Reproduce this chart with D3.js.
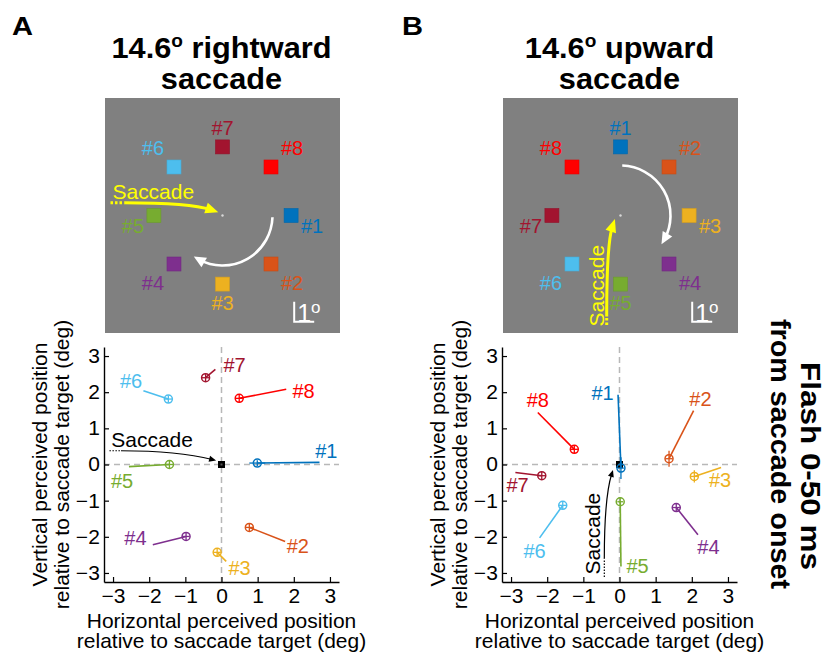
<!DOCTYPE html>
<html><head><meta charset="utf-8">
<script src="https://cdn.jsdelivr.net/npm/d3@7"></script>
<style>
body{margin:0;background:#fff}
svg{display:block}
text{font-family:"Liberation Sans",Arial,Helvetica,sans-serif}
</style>
</head><body>
<svg id="fig" width="836" height="652"></svg>
<script>
// ---------------- DATA ----------------
const targetIds = ["#1","#2","#3","#4","#5","#6","#7","#8"];
const targetColors = ["#0072BD","#D95319","#EDB120","#7E2F8E","#77AC30","#4DBEEE","#A2142F","#FF0000"];
const targetAngleOffsets = [0,-45,-90,-135,-180,-225,-270,-315]; // deg relative to saccade direction
const targetEcc = 3.43;               // deg (schematic)
const saccadeDirs = [0, 90];          // A rightward, B upward
const panelLetters = ["A","B"];
const titleWords = ["rightward","upward"];
const saccadeAmp = "14.6";
const tickValues = [-3,-2,-1,0,1,2,3];
const tickLabels = ["\u22123","\u22122","\u22121","0","1","2","3"];

// Panel A: perceived position (deg), trajectory end, label position, error bars
const A_x  = [0.99, 0.77, -0.12, -0.98, -1.44, -1.47, -0.44, 0.49];
const A_y  = [0.04, -1.74, -2.43, -1.99, 0.00, 1.81, 2.40, 1.83];
const A_x2 = [2.71, 1.76, 0.13, -1.90, -2.56, -2.16, -0.17, 1.79];
const A_y2 = [0.06, -2.13, -2.68, -2.22, -0.06, 2.04, 2.63, 2.08];
const A_lx = [2.90, 2.11, 0.50, -2.38, -2.75, -2.50, 0.36, 2.27];
const A_ly = [0.36, -2.25, -2.86, -2.03, -0.45, 2.31, 2.75, 2.02];
const A_ex = [0.22, 0.10, 0.10, 0.10, 0.10, 0.10, 0.10, 0.10];
const A_ey = [0.08, 0.10, 0.10, 0.10, 0.10, 0.10, 0.10, 0.10];

// Panel B
const B_x  = [0.04, 1.37, 2.07, 1.57, 0.02, -1.57, -2.15, -1.25];
const B_y  = [-0.10, 0.16, -0.33, -1.19, -1.03, -1.13, -0.31, 0.42];
const B_x2 = [-0.04, 2.05, 2.81, 2.17, 0.04, -2.21, -2.88, -2.26];
const B_y2 = [1.93, 1.49, -0.08, -1.94, -2.82, -2.03, -0.22, 1.44];
const B_lx = [-0.47, 2.24, 2.78, 2.46, 0.50, -2.35, -2.82, -2.26];
const B_ly = [1.97, 1.80, -0.42, -2.28, -2.82, -2.38, -0.56, 1.79];
const B_ex = [0.08, 0.10, 0.10, 0.10, 0.08, 0.10, 0.10, 0.10];
const B_ey = [0.30, 0.22, 0.17, 0.10, 0.10, 0.10, 0.10, 0.10];

// Saccade annotation in the scatter plots (deg)
const sacTextA = [-1.92, 0.68];
const sacDotA = [[-3.10, 0.38], [-2.78, 0.38]];
const sacCurveA = [[-2.78, 0.38], [-1.20, 0.38], [-0.15, 0.11]];
const sacTextB = [-0.73, -1.91];
const sacDotB = [[-0.42, -3.11], [-0.42, -2.60]];
const sacCurveB = [[-0.42, -2.60], [-0.42, -0.90], [-0.18, -0.15]];

// Saccade annotation in the stimulus schematics (deg, schematic space)
const stimSacTextA = [-3.46, 1.19];
const stimSacDotA = [[-5.60, 0.64], [-4.90, 0.64]];
const stimSacCurveA = [[-4.90, 0.64], [-1.60, 0.64], [-0.21, 0.16]];
const stimSacTextB = [-1.19, -3.51];
const stimSacDotB = [[-0.69, -5.48], [-0.69, -5.05]];
const stimSacCurveB = [[-0.69, -5.05], [-0.69, -1.40], [-0.28, -0.18]];
const arcRadius = 2.5;      // deg
const arcSweep = 116;       // deg
const stimHalf = 5.875;     // deg half-width of schematic
const scaleBarDeg = 1;

const sideText = ["Flash 0-50 ms", "from saccade onset"];

// ---------------- DRAW ----------------
const svg = d3.select("#fig");
const FONT_SX = 1.05;

function txt(g, x, y, str, o = {}) {
  const t = g.append("text")
    .attr("transform", `translate(${x},${y}) rotate(${o.rotate || 0}) scale(${o.sx || FONT_SX},1)`)
    .attr("text-anchor", o.anchor || "middle")
    .attr("font-size", o.size || 20)
    .attr("font-weight", o.weight || "normal")
    .attr("fill", o.fill || "#000");
  if (o.baseline) t.attr("dominant-baseline", o.baseline);
  t.text(str);
  return t;
}

function arrowHead(g, tip, dir, len, hw, fill) {
  const n = Math.hypot(dir[0], dir[1]);
  const ux = dir[0] / n, uy = dir[1] / n;
  const bx = tip[0] - ux * len, by = tip[1] - uy * len;
  const pts = [tip, [bx - uy * hw, by + ux * hw], [bx + uy * hw, by - ux * hw]];
  g.append("polygon").attr("points", pts.map(p => p.join(",")).join(" ")).attr("fill", fill);
}

const panels = [
  {x: A_x, y: A_y, x2: A_x2, y2: A_y2, lx: A_lx, ly: A_ly, ex: A_ex, ey: A_ey,
   sacText: sacTextA, sacDot: sacDotA, sacCurve: sacCurveA, sacRot: 0,
   stimText: stimSacTextA, stimDot: stimSacDotA, stimCurve: stimSacCurveA, stimRot: 0},
  {x: B_x, y: B_y, x2: B_x2, y2: B_y2, lx: B_lx, ly: B_ly, ex: B_ex, ey: B_ey,
   sacText: sacTextB, sacDot: sacDotB, sacCurve: sacCurveB, sacRot: -90,
   stimText: stimSacTextB, stimDot: stimSacDotB, stimCurve: stimSacCurveB, stimRot: -90}
];

const plotLeft = [104, 502], plotTop = 347, plotSize = 235;
const grayLeft = [105, 503], grayTop = 98, graySize = 235;
const letterX = [12, 402];

panels.forEach((P, pi) => {
  const g = svg.append("g");
  const cxTitle = plotLeft[pi] + plotSize / 2;

  // panel letter
  txt(g, letterX[pi], 35, panelLetters[pi], {anchor: "start", size: 26, weight: "bold", sx: 1.12});

  // title
  const t1 = g.append("text")
    .attr("transform", `translate(${cxTitle},58) scale(1.06,1)`)
    .attr("text-anchor", "middle").attr("font-size", 29).attr("font-weight", "bold");
  t1.append("tspan").text(saccadeAmp);
  t1.append("tspan").attr("font-size", 18).attr("dy", -11).text("o");
  t1.append("tspan").attr("dy", 11).text(" " + titleWords[pi]);
  txt(g, cxTitle, 89, "saccade", {size: 29, weight: "bold", sx: 1.06});

  // ----- stimulus schematic -----
  const sx = d3.scaleLinear().domain([-stimHalf, stimHalf]).range([grayLeft[pi], grayLeft[pi] + graySize]);
  const sy = d3.scaleLinear().domain([-stimHalf, stimHalf]).range([grayTop + graySize, grayTop]);
  const pxPerDeg = graySize / (2 * stimHalf);
  const sg = g.append("g");
  sg.append("rect").attr("x", grayLeft[pi]).attr("y", grayTop)
    .attr("width", graySize).attr("height", graySize).attr("fill", "#808080");

  const dir = saccadeDirs[pi];
  targetIds.forEach((id, i) => {
    const a = (dir + targetAngleOffsets[i]) * Math.PI / 180;
    const tx = sx(targetEcc * Math.cos(a)), ty = sy(targetEcc * Math.sin(a));
    const sz = 14;
    sg.append("rect").attr("x", tx - sz / 2).attr("y", ty - sz / 2)
      .attr("width", sz).attr("height", sz).attr("fill", targetColors[i])
      .attr("stroke", d3.color(targetColors[i]).darker(0.3)).attr("stroke-width", 0.6);
    const c = Math.round(Math.cos(a) * 1000) / 1000, s = Math.round(Math.sin(a) * 1000) / 1000;
    const dx = 21 * Math.sign(c);
    const dy = Math.abs(s) < 0.1 ? 10 : -19 * Math.sign(s);
    txt(sg, tx + dx, ty + dy, id, {size: 20, fill: targetColors[i], baseline: "central", sx: 1.0});
  });
  // fixation dot
  sg.append("circle").attr("cx", sx(0)).attr("cy", sy(0)).attr("r", 1.2).attr("fill", "#d8d8d8");

  // white arc arrow
  const a0 = (-dir + 2) * Math.PI / 180;
  const a1 = a0 + arcSweep * Math.PI / 180;
  const aTip = a0 + (arcSweep + 7) * Math.PI / 180;
  const rPx = arcRadius * pxPerDeg;
  const ccx = sx(0), ccy = sy(0);
  const ap = d3.path();
  ap.arc(ccx, ccy, rPx, a0, a1);
  sg.append("path").attr("d", ap.toString().replace(/^M[^A]*L/, "M"))
    .attr("fill", "none").attr("stroke", "#fff").attr("stroke-width", 2.6);
  const tip = [ccx + rPx * Math.cos(aTip), ccy + rPx * Math.sin(aTip)];
  const base = [ccx + rPx * Math.cos(a1 - 0.05), ccy + rPx * Math.sin(a1 - 0.05)];
  arrowHead(sg, tip, [tip[0] - base[0], tip[1] - base[1]], 12, 5.5, "#fff");

  // yellow saccade arrow
  const yel = "#FFFF00";
  sg.append("line")
    .attr("x1", sx(P.stimDot[0][0])).attr("y1", sy(P.stimDot[0][1]))
    .attr("x2", sx(P.stimDot[1][0])).attr("y2", sy(P.stimDot[1][1]))
    .attr("stroke", yel).attr("stroke-width", 3).attr("stroke-dasharray", "2.5,2");
  const C = P.stimCurve.map(p => [sx(p[0]), sy(p[1])]);
  const endBack = 8;
  const dvec = [C[2][0] - C[1][0], C[2][1] - C[1][1]];
  const dn = Math.hypot(dvec[0], dvec[1]);
  const cEnd = [C[2][0] - dvec[0] / dn * endBack, C[2][1] - dvec[1] / dn * endBack];
  sg.append("path").attr("d", `M${C[0]}Q${C[1]} ${cEnd}`)
    .attr("fill", "none").attr("stroke", yel).attr("stroke-width", 3);
  arrowHead(sg, C[2], dvec, 13, 5.5, yel);
  txt(sg, sx(P.stimText[0]), sy(P.stimText[1]), "Saccade",
      {size: 20, fill: yel, rotate: P.stimRot, baseline: "central"});

  // scale bar
  const sbx = sx(stimHalf - 2.29), sby = sy(-stimHalf + 0.56);
  const sbLen = scaleBarDeg * pxPerDeg;
  sg.append("path").attr("d", `M${sbx},${sby - sbLen}V${sby}H${sbx + sbLen}`)
    .attr("fill", "none").attr("stroke", "#fff").attr("stroke-width", 2);
  const st = sg.append("text").attr("x", sbx + 3).attr("y", sby)
    .attr("font-size", 25).attr("fill", "#fff");
  st.append("tspan").text("1");
  st.append("tspan").attr("font-size", 17).attr("dy", -9).text("o");

  // ----- scatter plot -----
  const x = d3.scaleLinear().domain([-3.25, 3.25]).range([plotLeft[pi], plotLeft[pi] + plotSize]);
  const y = d3.scaleLinear().domain([-3.25, 3.25]).range([plotTop + plotSize, plotTop]);
  const pg = g.append("g");

  // reference dashed lines
  pg.append("line").attr("x1", x(0)).attr("x2", x(0)).attr("y1", y(3.25)).attr("y2", y(-3.25))
    .attr("stroke", "#b8b8b8").attr("stroke-width", 1.5).attr("stroke-dasharray", "6,4");
  pg.append("line").attr("x1", x(-3.25)).attr("x2", x(3.25)).attr("y1", y(0)).attr("y2", y(0))
    .attr("stroke", "#b8b8b8").attr("stroke-width", 1.5).attr("stroke-dasharray", "6,4");

  // axes
  const fmt = d => tickLabels[tickValues.indexOf(d)];
  const xa = pg.append("g").attr("transform", `translate(0,${plotTop + plotSize})`)
    .call(d3.axisBottom(x).tickValues(tickValues).tickFormat(fmt).tickSizeInner(-5).tickSizeOuter(0).tickPadding(7));
  const ya = pg.append("g").attr("transform", `translate(${plotLeft[pi]},0)`)
    .call(d3.axisLeft(y).tickValues(tickValues).tickFormat(fmt).tickSizeInner(-5).tickSizeOuter(0).tickPadding(4));
  [xa, ya].forEach(a => {
    a.select(".domain").attr("stroke", "#000").attr("stroke-width", 1.4);
    a.selectAll(".tick line").attr("stroke", "#000").attr("stroke-width", 1.2);
    a.selectAll(".tick text").attr("font-size", 20).attr("fill", "#000")
      .attr("font-family", '"Liberation Sans",Arial,sans-serif')
      .attr("transform", `scale(${FONT_SX},1)`);
  });

  // axis titles
  const xc = plotLeft[pi] + plotSize / 2;
  txt(pg, xc, 628, "Horizontal perceived position", {size: 20});
  txt(pg, xc, 648, "relative to saccade target (deg)", {size: 20});
  const yc = plotTop + plotSize / 2;
  txt(pg, plotLeft[pi] - 57.5, yc, "Vertical perceived position", {size: 20, rotate: -90});
  txt(pg, plotLeft[pi] - 35.5, yc, "relative to saccade target (deg)", {size: 20, rotate: -90});

  // saccade annotation
  pg.append("line")
    .attr("x1", x(P.sacDot[0][0])).attr("y1", y(P.sacDot[0][1]))
    .attr("x2", x(P.sacDot[1][0])).attr("y2", y(P.sacDot[1][1]))
    .attr("stroke", "#000").attr("stroke-width", 1.2).attr("stroke-dasharray", "1.5,1.5");
  const K = P.sacCurve.map(p => [x(p[0]), y(p[1])]);
  const kd = [K[2][0] - K[1][0], K[2][1] - K[1][1]];
  const kn = Math.hypot(kd[0], kd[1]);
  const kEnd = [K[2][0] - kd[0] / kn * 4, K[2][1] - kd[1] / kn * 4];
  pg.append("path").attr("d", `M${K[0]}Q${K[1]} ${kEnd}`)
    .attr("fill", "none").attr("stroke", "#000").attr("stroke-width", 1.2);
  arrowHead(pg, K[2], kd, 7, 3, "#000");
  txt(pg, x(P.sacText[0]), y(P.sacText[1]), "Saccade", {size: 20, rotate: P.sacRot, baseline: "central"});

  // origin marker
  pg.append("rect").attr("x", x(0) - 3.5).attr("y", y(0) - 3.5).attr("width", 7).attr("height", 7)
    .attr("fill", "#000");
  pg.append("rect").attr("x", x(0) - 1).attr("y", y(0) - 1).attr("width", 2).attr("height", 2)
    .attr("fill", "#555");

  // data
  targetIds.forEach((id, i) => {
    const col = targetColors[i];
    pg.append("line").attr("x1", x(P.x[i])).attr("y1", y(P.y[i]))
      .attr("x2", x(P.x2[i])).attr("y2", y(P.y2[i]))
      .attr("stroke", col).attr("stroke-width", 1.6);
    pg.append("line").attr("x1", x(P.x[i] - P.ex[i])).attr("x2", x(P.x[i] + P.ex[i]))
      .attr("y1", y(P.y[i])).attr("y2", y(P.y[i])).attr("stroke", col).attr("stroke-width", 1.3);
    pg.append("line").attr("x1", x(P.x[i])).attr("x2", x(P.x[i]))
      .attr("y1", y(P.y[i] - P.ey[i])).attr("y2", y(P.y[i] + P.ey[i])).attr("stroke", col).attr("stroke-width", 1.3);
    pg.append("circle").attr("cx", x(P.x[i])).attr("cy", y(P.y[i])).attr("r", 4)
      .attr("fill", "none").attr("stroke", col).attr("stroke-width", 1.5);
    txt(pg, x(P.lx[i]), y(P.ly[i]), id, {size: 20, fill: col, baseline: "central", sx: 1.0});
  });
});

// side text
const side = svg.append("g");
side.append("text").attr("transform", "translate(801,466) rotate(90)")
  .attr("text-anchor", "middle").attr("font-size", 27).attr("font-weight", "bold")
  .attr("textLength", 208).attr("lengthAdjust", "spacingAndGlyphs").text(sideText[0]);
side.append("text").attr("transform", "translate(771,454) rotate(90)")
  .attr("text-anchor", "middle").attr("font-size", 27).attr("font-weight", "bold")
  .attr("textLength", 270).attr("lengthAdjust", "spacingAndGlyphs").text(sideText[1]);
</script>
</body></html>
